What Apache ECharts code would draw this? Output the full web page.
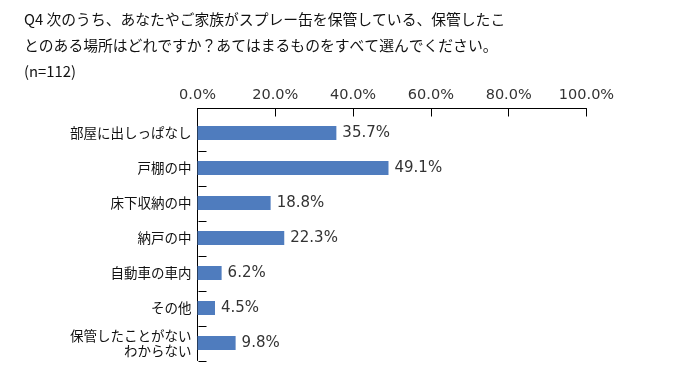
<!DOCTYPE html>
<html>
<head>
<meta charset="utf-8">
<script src="https://cdn.jsdelivr.net/npm/echarts@6/dist/echarts.min.js"></script>
<style>
html,body{margin:0;padding:0;background:#fff;}
#chart{width:680px;height:380px;}
</style>
</head>
<body>
<div id="chart"></div>
<script>
const titleText = 'Q4 次のうち、あなたやご家族がスプレー缶を保管している、保管したこ\nとのある場所はどれですか？あてはまるものをすべて選んでください。\n(n=112)';
const categories = ['部屋に出しっぱなし', '戸棚の中', '床下収納の中', '納戸の中', '自動車の車内', 'その他', '保管したことがない\nわからない'];
const values = [35.7, 49.1, 18.8, 22.3, 6.2, 4.5, 9.8];
const axisMin = 0, axisMax = 100, axisInterval = 20;

const gridLeft = 197.5, gridRight = 93.5, gridTop = 115.5, gridBottom = 19.5;
const axisOffset = 7;
const tickLen = 8;

const chart = echarts.init(document.getElementById('chart'), null, {renderer: 'canvas'});
chart.setOption({
  backgroundColor: '#fff',
  animation: false,
  title: {
    text: titleText,
    left: 19,
    top: 1.5,
    textStyle: {
      fontFamily: '"Noto Sans CJK JP", sans-serif',
      fontSize: 14.8,
      fontWeight: 'normal',
      color: '#111',
      lineHeight: 26
    }
  },
  grid: {left: gridLeft, right: gridRight, top: gridTop, bottom: gridBottom, containLabel: false},
  xAxis: {
    type: 'value',
    position: 'top',
    offset: axisOffset,
    min: axisMin, max: axisMax, interval: axisInterval,
    axisLine: {show: true, lineStyle: {color: '#000', width: 1}},
    axisTick: {show: true, inside: true, length: 8, lineStyle: {color: '#000'}},
    splitLine: {show: false},
    axisLabel: {
      margin: 6,
      formatter: v => v.toFixed(1) + '%',
      fontFamily: '"DejaVu Sans", sans-serif',
      fontSize: 14.5,
      color: '#333'
    }
  },
  yAxis: {
    type: 'category',
    inverse: true,
    data: categories,
    axisLine: {show: true, lineStyle: {color: '#000', width: 1}},
    axisTick: {show: false},
    axisLabel: {
      margin: 6,
      fontFamily: '"Noto Sans CJK JP", sans-serif',
      fontSize: 13.5,
      color: '#111',
      lineHeight: 15,
      align: 'right'
    },
    splitLine: {show: false}
  },
  series: [{
    type: 'bar',
    data: values,
    barWidth: 14,
    itemStyle: {color: '#4f7cbe'},
    label: {
      show: true,
      position: 'right',
      distance: 6,
      formatter: p => p.value.toFixed(1) + '%',
      fontFamily: '"DejaVu Sans", sans-serif',
      fontSize: 15,
      color: '#333'
    }
  }, {
    type: 'custom',
    silent: true,
    clip: false,
    z: 5,
    encode: {x: 0, y: 1},
    data: categories.map((c, i) => [axisMin, i]),
    renderItem: function (params, api) {
      const idx = api.value(1);
      const p = api.coord([axisMin, idx]);
      const band = api.size([0, 1])[1];
      const y = Math.round(p[1] + band / 2) + 0.5;
      const x = Math.round(p[0]) + 0.5;
      return {
        type: 'line',
        shape: {x1: x, y1: y, x2: x + tickLen, y2: y},
        style: {stroke: '#000', lineWidth: 1}
      };
    }
  }],
  graphic: [{
    type: 'line',
    shape: {x1: gridLeft, y1: gridTop - axisOffset, x2: gridLeft, y2: gridTop},
    style: {stroke: '#000', lineWidth: 1}
  }]
});
</script>
</body>
</html>
